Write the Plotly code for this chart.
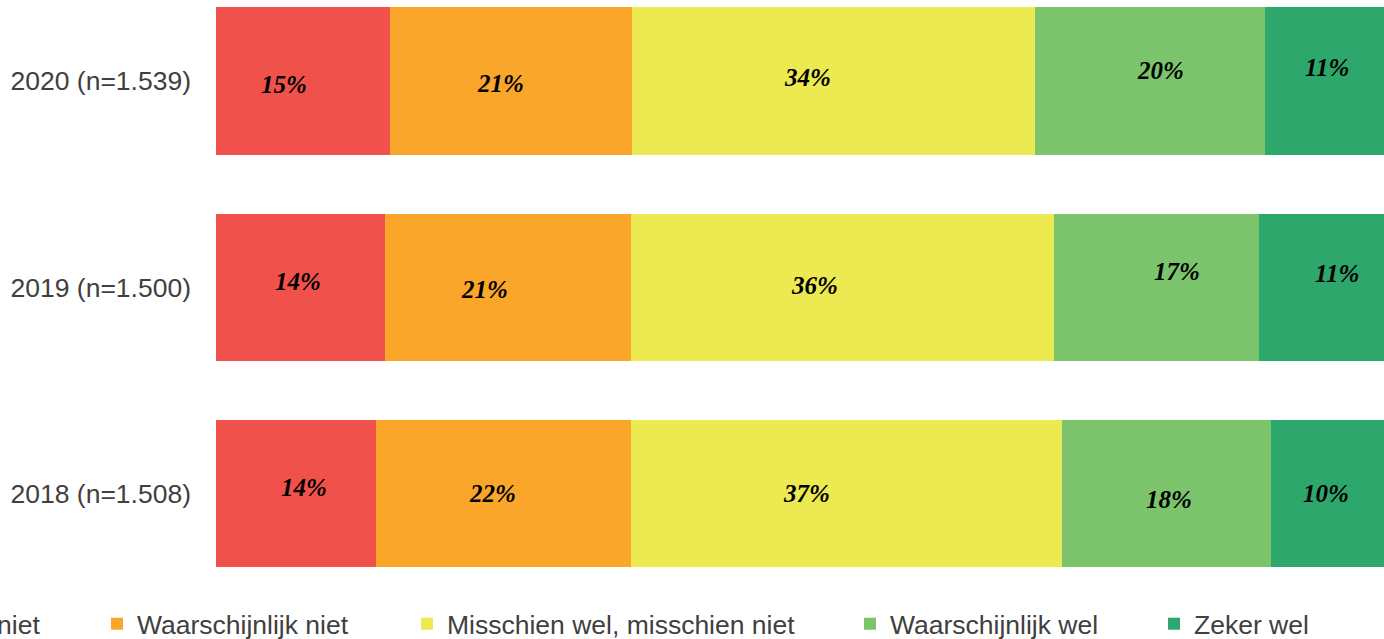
import plotly.graph_objects as go

categories = ["2020 (n=1.539)", "2019 (n=1.500)", "2018 (n=1.508)"]
series_names = ["Zeker niet", "Waarschijnlijk niet", "Misschien wel, misschien niet",
                "Waarschijnlijk wel", "Zeker wel"]
zeker_niet = [14.92, 14.43, 13.66]
waarschijnlijk_niet = [20.71, 21.09, 21.89]
misschien = [34.47, 36.21, 36.87]
waarschijnlijk_wel = [19.69, 17.55, 17.89]
zeker_wel = [10.6, 10.9, 10.3]
labels = [
    ["15%", "21%", "34%", "20%", "11%"],
    ["14%", "21%", "36%", "17%", "11%"],
    ["14%", "22%", "37%", "18%", "10%"],
]

colors = ["#F0524B", "#F9A62A", "#EDE951", "#7CC46B", "#2DA76B"]
# label offsets (px) relative to the visible segment centre: (dx, dy-down)
label_shifts = [
    [(-19, 4), (-11, 3), (-26, -3), (11, -10), (3, -13)],
    [(-2, -6), (-23, 2), (-28, -2), (21, -16), (16, -14)],
    [(8, -6), (-11, 0), (-40, 0), (3, 6), (-1, 0)],
]
# legend entry left edges in pixels (one legend box per entry)
legend_left_px = [-118, 97, 407, 850, 1154]

series = [zeker_niet, waarschijnlijk_niet, misschien, waarschijnlijk_wel, zeker_wel]

ML, MR, MT, MB = 216, 0, 0, 39
W, H = 1384, 639
PW = W - ML - MR
TXT = 26.5

fig = go.Figure()
legend_ids = ["legend", "legend2", "legend3", "legend4", "legend5"]
for i, (name, vals) in enumerate(zip(series_names, series)):
    fig.add_trace(go.Bar(
        y=categories, x=vals, orientation="h", name=name,
        marker=dict(color=colors[i], line=dict(width=0)),
        hoverinfo="x+y", legend=legend_ids[i],
    ))

annotations = []
for r, cat in enumerate(categories):
    start = 0.0
    for s, vals in enumerate(series):
        end = start + vals[r]
        mid = (start + min(end, 100.0)) / 2
        dx, dy = label_shifts[r][s]
        annotations.append(dict(
            x=mid, y=cat, xref="x", yref="y", text=labels[r][s], showarrow=False,
            xshift=dx, yshift=-dy,
            font=dict(family="Liberation Serif", size=25, color="#000000",
                      weight="bold", style="italic"),
        ))
        start = end

legend_style = dict(orientation="h", xanchor="left", y=-0.04, yanchor="middle",
                    font=dict(family="Liberation Sans", size=TXT, color="#404040"),
                    bgcolor="rgba(0,0,0,0)", borderwidth=0)
legends = {}
for i, lid in enumerate(legend_ids):
    legends[lid] = dict(legend_style, x=(legend_left_px[i] - ML) / PW)

fig.update_layout(
    width=W, height=H,
    barmode="stack", bargap=0.286,
    margin=dict(l=ML, r=MR, t=MT, b=MB, autoexpand=False),
    paper_bgcolor="white", plot_bgcolor="white",
    font=dict(family="Liberation Sans", size=TXT, color="#404040"),
    xaxis=dict(range=[0, 100], visible=False, fixedrange=True),
    yaxis=dict(range=[2.515, -0.392], showgrid=False, zeroline=False, showline=False,
               ticks="", ticklabelstandoff=24, tickfont=dict(size=TXT, color="#404040"),
               fixedrange=True),
    annotations=annotations,
    showlegend=True,
    **legends,
)

fig.write_html("out.html", config={"displayModeBar": False},
               post_script="document.body.style.margin='0';document.body.style.overflow='hidden';")
